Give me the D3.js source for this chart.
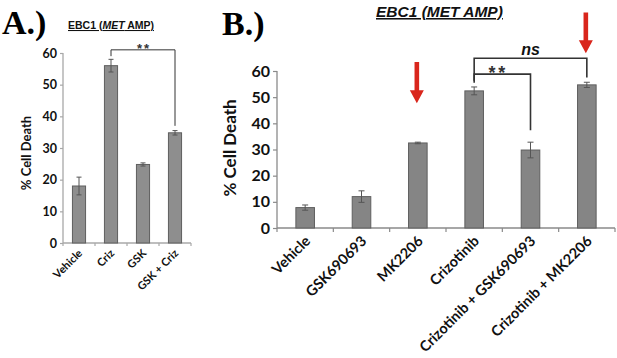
<!DOCTYPE html>
<html>
<head>
<meta charset="utf-8">
<script src="https://cdn.jsdelivr.net/npm/d3@7"></script>
<style>
  body { margin: 0; background: #fff; }
  svg { display: block; }
</style>
</head>
<body>
<svg id="chart" width="617" height="358"></svg>
<script>
// Panel A data
const catsA = ["Vehicle", "Criz", "GSK", "GSK + Criz"];
const valsA = [18, 56, 24.8, 34.8];
const errA = [2.8, 2, 0.5, 0.7];
// Panel B data
const catsB = ["Vehicle", "GSK690693", "MK2206", "Crizotinib", "Crizotinib + GSK690693", "Crizotinib + MK2206"];
const valsB = [7.8, 12, 32.5, 52.4, 29.8, 54.7];
const errB = [1, 2.2, 0.3, 1.5, 3, 1];
const yTicks = [0, 10, 20, 30, 40, 50, 60];

// significance brackets: [from, to, level, leftEnd, rightEnd, label]
const bracketsA = [["Criz", "GSK + Criz", 61, 59, 37, "**"]];
const bracketsB = [
    ["Crizotinib", "Crizotinib + MK2206", 64.9, 55.5, 57.5, "ns"],
    ["Crizotinib", "Crizotinib + GSK690693", 58.8, 56.3, 37.4, "**"]
];
// red arrows: [category, start value, tip value]
const arrowsB = [["MK2206", 63.4, 47.7], ["Crizotinib + MK2206", 82.4, 66.8]];

const svg = d3.select('#chart');
const sans = "'Liberation Sans', Arial, sans-serif";
const lab = "Lato, 'Open Sans', sans-serif";

function panel(opt) {
    const x = d3.scaleBand()
        .domain(opt.cats)
        .range([opt.left, opt.right])
        .paddingInner(opt.pad)
        .paddingOuter(opt.pad / 2);
    const y = d3.scaleLinear([0, 60], [opt.bottom, opt.top]);
    const g = svg.append('g');

    // y axis
    const yAxis = d3.axisLeft(y).tickValues(yTicks).tickSize(opt.tick).tickSizeOuter(0);
    const ga = g.append('g')
        .attr('transform', `translate(${opt.left},0)`)
        .call(yAxis);
    ga.select('.domain').attr('stroke', opt.axisColor).attr('stroke-width', 1.3)
        .attr('d', `M0,${y(0)}V${y(60)}`);
    ga.selectAll('.tick line').attr('stroke', opt.axisColor).attr('stroke-width', 1.2);
    ga.selectAll('.tick text')
        .attr('x', -opt.tick - 3)
        .style('font', `bold ${opt.tickFont}px ${lab}`)
        .attr('fill', '#111');

    // x axis line with boundary ticks
    g.append('line')
        .attr('x1', opt.left).attr('x2', opt.right)
        .attr('y1', y(0)).attr('y2', y(0))
        .attr('stroke', opt.axisColor).attr('stroke-width', 1.3);
    const step = x.step();
    g.selectAll('.xt')
        .data(d3.range(opt.cats.length + 1))
        .join('line')
        .attr('x1', i => opt.left + i * step).attr('x2', i => opt.left + i * step)
        .attr('y1', y(0)).attr('y2', y(0) + opt.tick)
        .attr('stroke', opt.axisColor).attr('stroke-width', 1.2);

    // bars
    g.selectAll('rect.bar')
        .data(opt.cats)
        .join('rect')
        .attr('x', d => x(d))
        .attr('y', (d, i) => y(opt.vals[i]))
        .attr('width', x.bandwidth())
        .attr('height', (d, i) => y(0) - y(opt.vals[i]))
        .attr('fill', opt.barColor)
        .attr('stroke', '#5f5f5f')
        .attr('stroke-width', 1);

    // error bars
    const cap = opt.cap;
    const eb = g.selectAll('g.err')
        .data(opt.cats)
        .join('g')
        .attr('stroke', '#555')
        .attr('stroke-width', 1);
    eb.append('line')
        .attr('x1', d => x(d) + x.bandwidth() / 2).attr('x2', d => x(d) + x.bandwidth() / 2)
        .attr('y1', (d, i) => y(opt.vals[i] - opt.errs[i]))
        .attr('y2', (d, i) => y(opt.vals[i] + opt.errs[i]));
    eb.append('line')
        .attr('x1', d => x(d) + x.bandwidth() / 2 - cap).attr('x2', d => x(d) + x.bandwidth() / 2 + cap)
        .attr('y1', (d, i) => y(opt.vals[i] + opt.errs[i]))
        .attr('y2', (d, i) => y(opt.vals[i] + opt.errs[i]));
    eb.append('line')
        .attr('x1', d => x(d) + x.bandwidth() / 2 - cap).attr('x2', d => x(d) + x.bandwidth() / 2 + cap)
        .attr('y1', (d, i) => y(opt.vals[i] - opt.errs[i]))
        .attr('y2', (d, i) => y(opt.vals[i] - opt.errs[i]));

    // category labels
    g.selectAll('text.cat')
        .data(opt.cats)
        .join('text')
        .attr('text-anchor', 'end')
        .attr('transform', d => `translate(${x(d) + x.bandwidth() / 2 + opt.labDx},${y(0) + opt.labDy}) rotate(-45)`)
        .style('font', `bold ${opt.catFont}px ${lab}`)
        .attr('fill', '#111')
        .text(d => d);

    // y label
    g.append('text')
        .attr('transform', `translate(${opt.yLabX},${opt.yLabY}) rotate(-90)`)
        .attr('text-anchor', 'middle')
        .style('font', `bold ${opt.yLabFont}px ${lab}`)
        .attr('fill', '#111')
        .text('% Cell Death');

    // brackets
    const mid = c => x(c) + x.bandwidth() / 2;
    opt.brackets.forEach(([a, b, lvl, l1, l2, txt]) => {
        const x1 = mid(a), x2 = mid(b);
        g.append('path')
            .attr('d', `M${x1},${y(l1)}V${y(lvl)}H${x2}V${y(l2)}`)
            .attr('fill', 'none')
            .attr('stroke', '#333')
            .attr('stroke-width', opt.brW);
        g.append('text')
            .attr('x', (x1 + x2) / 2 + (txt === 'ns' ? 0 : opt.starDx))
            .attr('y', y(lvl) - 3)
            .attr('text-anchor', 'middle')
            .style('font', txt === 'ns' ? `italic bold 16px ${sans}` : `bold ${opt.starFont}px ${sans}`)
            .style('letter-spacing', txt === 'ns' ? '0px' : `${opt.starFont * 0.15}px`)
            .attr('fill', txt === 'ns' ? '#111' : '#333')
            .attr('dy', txt === 'ns' ? 0 : opt.starFont * 0.45)
            .text(txt);
    });

    // arrows
    (opt.arrows || []).forEach(([c, v0, v1]) => {
        const cx = mid(c) - 1, y0 = y(v0), y1 = y(v1);
        const hw = 7, hh = 13, sw = 2.3;
        g.append('path')
            .attr('d', `M${cx - sw},${y0}H${cx + sw}V${y1 - hh}H${cx + hw}L${cx},${y1}L${cx - hw},${y1 - hh}H${cx - sw}Z`)
            .attr('fill', '#d9261c');
    });

    return {x, y};
}

panel({
    cats: catsA, vals: valsA, errs: errA, brackets: bracketsA,
    left: 63, right: 191, top: 53, bottom: 243, pad: 0.59,
    tick: 3, tickFont: 12.5, catFont: 11, labDx: 4, labDy: 11,
    yLabX: 31, yLabY: 153, yLabFont: 13,
    axisColor: '#a8a8a8', barColor: '#8e8e8e', cap: 2.5, brW: 1, starFont: 13, starDx: 1
});

panel({
    cats: catsB, vals: valsB, errs: errB, brackets: bracketsB, arrows: arrowsB,
    left: 277, right: 615, top: 71, bottom: 228, pad: 0.67,
    tick: 4, tickFont: 16, catFont: 14.5, labDx: 6, labDy: 14,
    yLabX: 236, yLabY: 148, yLabFont: 17,
    axisColor: '#8a8a8a', barColor: '#858585', cap: 3, brW: 1.6, starFont: 18, starDx: -4
});

// panel letters
svg.append('text').attr('x', 2).attr('y', 34)
    .style('font', "bold 34px 'Liberation Serif', 'Times New Roman', serif")
    .attr('fill', '#000').text('A.)');
svg.append('text').attr('x', 222).attr('y', 35)
    .style('font', "bold 34px 'Liberation Serif', 'Times New Roman', serif")
    .attr('fill', '#000').text('B.)');

// titles
const tA = svg.append('text').attr('x', 68).attr('y', 29)
    .style('font', `bold 10.5px ${sans}`)
    .attr('text-decoration', 'underline')
    .attr('fill', '#111');
tA.append('tspan').text('EBC1 (');
tA.append('tspan').attr('font-style', 'italic').text('MET');
tA.append('tspan').text(' AMP)');

svg.append('text').attr('x', 376).attr('y', 17)
    .style('font', `italic bold 15.5px ${sans}`)
    .attr('text-decoration', 'underline')
    .attr('fill', '#111')
    .text('EBC1 (MET AMP)');
</script>
</body>
</html>
